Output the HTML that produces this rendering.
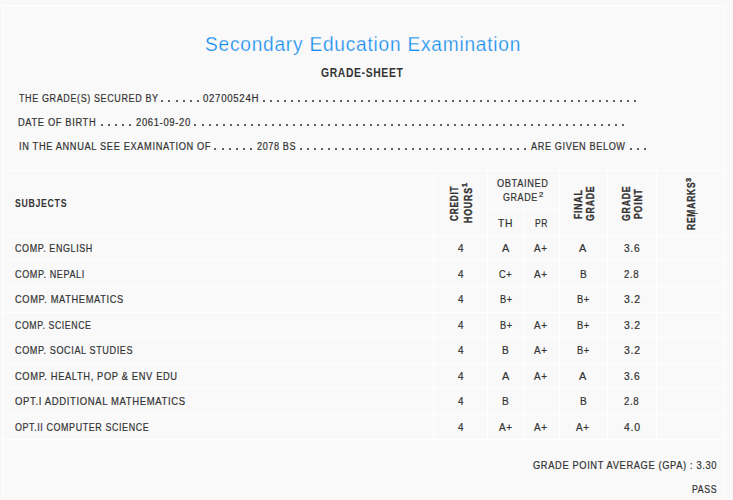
<!DOCTYPE html>
<html><head><meta charset="utf-8"><style>
html,body{margin:0;padding:0;}
body{width:733px;height:500px;overflow:hidden;background:#f8f8f8;position:relative;font-family:"Liberation Sans", sans-serif;}
.panel{position:absolute;left:2px;top:5px;width:722px;height:495px;background:#f9f9f9;}
.rs{position:absolute;left:724px;top:0px;width:7px;height:500px;background:#fafafa;}
.ln{position:absolute;background:#ffffff;}
.t{position:absolute;white-space:pre;transform-origin:0 0;-webkit-text-stroke:0.2px currentColor;}
.dot{position:absolute;width:2px;height:2px;background:#606060;}
#title{-webkit-text-stroke:0.25px #f9f9f9}
.b{-webkit-text-stroke:0px currentColor}

</style></head><body>
<div class="panel"></div>
<div class="rs"></div>
<div class="ln" style="left:2px;top:5px;width:722px;height:1px"></div>
<div class="ln" style="left:2px;top:5px;width:1px;height:495px"></div>
<div class="ln" style="left:723px;top:5px;width:1px;height:495px"></div>
<div class="ln" style="left:2px;top:170px;width:722px;height:1px"></div>
<div class="ln" style="left:2px;top:235px;width:722px;height:1px"></div>
<div class="ln" style="left:2px;top:260px;width:722px;height:1px"></div>
<div class="ln" style="left:2px;top:286px;width:722px;height:1px"></div>
<div class="ln" style="left:2px;top:312px;width:722px;height:1px"></div>
<div class="ln" style="left:2px;top:337px;width:722px;height:1px"></div>
<div class="ln" style="left:2px;top:363px;width:722px;height:1px"></div>
<div class="ln" style="left:2px;top:388px;width:722px;height:1px"></div>
<div class="ln" style="left:2px;top:414px;width:722px;height:1px"></div>
<div class="ln" style="left:2px;top:439px;width:722px;height:1px"></div>
<div class="ln" style="left:433px;top:170px;width:1px;height:269px"></div>
<div class="ln" style="left:487px;top:170px;width:1px;height:269px"></div>
<div class="ln" style="left:559px;top:170px;width:1px;height:269px"></div>
<div class="ln" style="left:607px;top:170px;width:1px;height:269px"></div>
<div class="ln" style="left:656px;top:170px;width:1px;height:269px"></div>
<div class="ln" style="left:523px;top:209px;width:1px;height:230px"></div>
<div class="ln" style="left:487px;top:209px;width:73px;height:1px"></div>
<div style="position:absolute;left:694px;top:213px;width:4px;height:1px;background:#5a5a5a"></div>
<div id="title" class="t" style="left:205.02px;top:34.50px;font-size:19.5px;line-height:19.5px;font-weight:normal;color:#168ef0;letter-spacing:0.8px;transform:scaleX(0.9791)">Secondary Education Examination</div>
<div id="gs" class="t b" style="left:321.00px;top:66.75px;font-size:12.94px;line-height:12.94px;font-weight:bold;color:#333333;letter-spacing:0.8px;transform:scaleX(0.8003)">GRADE-SHEET</div>
<div id="l1a" class="t" style="left:19.02px;top:93.85px;font-size:10.0px;line-height:10.0px;font-weight:normal;color:#333333;letter-spacing:0.7px;transform:scaleX(0.8975)">THE GRADE(S) SECURED BY</div>
<div class="dot" style="left:161px;top:100px"></div>
<div class="dot" style="left:168px;top:100px"></div>
<div class="dot" style="left:176px;top:100px"></div>
<div class="dot" style="left:183px;top:100px"></div>
<div class="dot" style="left:190px;top:100px"></div>
<div class="dot" style="left:197px;top:100px"></div>
<div id="l1b" class="t" style="left:203.00px;top:93.85px;font-size:10.0px;line-height:10.0px;font-weight:normal;color:#333333;letter-spacing:0.7px;transform:scaleX(0.9670)">02700524H</div>
<div class="dot" style="left:263px;top:100px"></div>
<div class="dot" style="left:270px;top:100px"></div>
<div class="dot" style="left:277px;top:100px"></div>
<div class="dot" style="left:284px;top:100px"></div>
<div class="dot" style="left:291px;top:100px"></div>
<div class="dot" style="left:298px;top:100px"></div>
<div class="dot" style="left:305px;top:100px"></div>
<div class="dot" style="left:312px;top:100px"></div>
<div class="dot" style="left:319px;top:100px"></div>
<div class="dot" style="left:326px;top:100px"></div>
<div class="dot" style="left:333px;top:100px"></div>
<div class="dot" style="left:340px;top:100px"></div>
<div class="dot" style="left:347px;top:100px"></div>
<div class="dot" style="left:354px;top:100px"></div>
<div class="dot" style="left:361px;top:100px"></div>
<div class="dot" style="left:368px;top:100px"></div>
<div class="dot" style="left:375px;top:100px"></div>
<div class="dot" style="left:382px;top:100px"></div>
<div class="dot" style="left:389px;top:100px"></div>
<div class="dot" style="left:396px;top:100px"></div>
<div class="dot" style="left:403px;top:100px"></div>
<div class="dot" style="left:410px;top:100px"></div>
<div class="dot" style="left:417px;top:100px"></div>
<div class="dot" style="left:424px;top:100px"></div>
<div class="dot" style="left:431px;top:100px"></div>
<div class="dot" style="left:438px;top:100px"></div>
<div class="dot" style="left:445px;top:100px"></div>
<div class="dot" style="left:452px;top:100px"></div>
<div class="dot" style="left:459px;top:100px"></div>
<div class="dot" style="left:466px;top:100px"></div>
<div class="dot" style="left:473px;top:100px"></div>
<div class="dot" style="left:480px;top:100px"></div>
<div class="dot" style="left:487px;top:100px"></div>
<div class="dot" style="left:494px;top:100px"></div>
<div class="dot" style="left:501px;top:100px"></div>
<div class="dot" style="left:508px;top:100px"></div>
<div class="dot" style="left:515px;top:100px"></div>
<div class="dot" style="left:522px;top:100px"></div>
<div class="dot" style="left:529px;top:100px"></div>
<div class="dot" style="left:536px;top:100px"></div>
<div class="dot" style="left:543px;top:100px"></div>
<div class="dot" style="left:550px;top:100px"></div>
<div class="dot" style="left:557px;top:100px"></div>
<div class="dot" style="left:564px;top:100px"></div>
<div class="dot" style="left:571px;top:100px"></div>
<div class="dot" style="left:578px;top:100px"></div>
<div class="dot" style="left:585px;top:100px"></div>
<div class="dot" style="left:592px;top:100px"></div>
<div class="dot" style="left:599px;top:100px"></div>
<div class="dot" style="left:606px;top:100px"></div>
<div class="dot" style="left:613px;top:100px"></div>
<div class="dot" style="left:620px;top:100px"></div>
<div class="dot" style="left:627px;top:100px"></div>
<div class="dot" style="left:634px;top:100px"></div>
<div id="l2a" class="t" style="left:18.05px;top:117.85px;font-size:10.0px;line-height:10.0px;font-weight:normal;color:#333333;letter-spacing:0.7px;transform:scaleX(0.9290)">DATE OF BIRTH</div>
<div class="dot" style="left:101px;top:124px"></div>
<div class="dot" style="left:108px;top:124px"></div>
<div class="dot" style="left:115px;top:124px"></div>
<div class="dot" style="left:122px;top:124px"></div>
<div class="dot" style="left:129px;top:124px"></div>
<div id="l2b" class="t" style="left:136.01px;top:117.85px;font-size:10.0px;line-height:10.0px;font-weight:normal;color:#333333;letter-spacing:0.7px;transform:scaleX(0.9421)">2061-09-20</div>
<div class="dot" style="left:194px;top:124px"></div>
<div class="dot" style="left:202px;top:124px"></div>
<div class="dot" style="left:209px;top:124px"></div>
<div class="dot" style="left:216px;top:124px"></div>
<div class="dot" style="left:223px;top:124px"></div>
<div class="dot" style="left:230px;top:124px"></div>
<div class="dot" style="left:237px;top:124px"></div>
<div class="dot" style="left:244px;top:124px"></div>
<div class="dot" style="left:251px;top:124px"></div>
<div class="dot" style="left:258px;top:124px"></div>
<div class="dot" style="left:265px;top:124px"></div>
<div class="dot" style="left:272px;top:124px"></div>
<div class="dot" style="left:279px;top:124px"></div>
<div class="dot" style="left:286px;top:124px"></div>
<div class="dot" style="left:293px;top:124px"></div>
<div class="dot" style="left:300px;top:124px"></div>
<div class="dot" style="left:307px;top:124px"></div>
<div class="dot" style="left:314px;top:124px"></div>
<div class="dot" style="left:321px;top:124px"></div>
<div class="dot" style="left:328px;top:124px"></div>
<div class="dot" style="left:335px;top:124px"></div>
<div class="dot" style="left:342px;top:124px"></div>
<div class="dot" style="left:349px;top:124px"></div>
<div class="dot" style="left:356px;top:124px"></div>
<div class="dot" style="left:363px;top:124px"></div>
<div class="dot" style="left:370px;top:124px"></div>
<div class="dot" style="left:377px;top:124px"></div>
<div class="dot" style="left:384px;top:124px"></div>
<div class="dot" style="left:391px;top:124px"></div>
<div class="dot" style="left:398px;top:124px"></div>
<div class="dot" style="left:405px;top:124px"></div>
<div class="dot" style="left:412px;top:124px"></div>
<div class="dot" style="left:419px;top:124px"></div>
<div class="dot" style="left:426px;top:124px"></div>
<div class="dot" style="left:433px;top:124px"></div>
<div class="dot" style="left:440px;top:124px"></div>
<div class="dot" style="left:447px;top:124px"></div>
<div class="dot" style="left:454px;top:124px"></div>
<div class="dot" style="left:461px;top:124px"></div>
<div class="dot" style="left:468px;top:124px"></div>
<div class="dot" style="left:475px;top:124px"></div>
<div class="dot" style="left:482px;top:124px"></div>
<div class="dot" style="left:489px;top:124px"></div>
<div class="dot" style="left:496px;top:124px"></div>
<div class="dot" style="left:503px;top:124px"></div>
<div class="dot" style="left:510px;top:124px"></div>
<div class="dot" style="left:517px;top:124px"></div>
<div class="dot" style="left:524px;top:124px"></div>
<div class="dot" style="left:531px;top:124px"></div>
<div class="dot" style="left:538px;top:124px"></div>
<div class="dot" style="left:545px;top:124px"></div>
<div class="dot" style="left:552px;top:124px"></div>
<div class="dot" style="left:559px;top:124px"></div>
<div class="dot" style="left:566px;top:124px"></div>
<div class="dot" style="left:573px;top:124px"></div>
<div class="dot" style="left:580px;top:124px"></div>
<div class="dot" style="left:587px;top:124px"></div>
<div class="dot" style="left:594px;top:124px"></div>
<div class="dot" style="left:601px;top:124px"></div>
<div class="dot" style="left:608px;top:124px"></div>
<div class="dot" style="left:615px;top:124px"></div>
<div class="dot" style="left:622px;top:124px"></div>
<div id="l3a" class="t" style="left:19.00px;top:141.95px;font-size:10.0px;line-height:10.0px;font-weight:normal;color:#333333;letter-spacing:0.7px;transform:scaleX(0.9247)">IN THE ANNUAL SEE EXAMINATION OF</div>
<div class="dot" style="left:214px;top:148px"></div>
<div class="dot" style="left:222px;top:148px"></div>
<div class="dot" style="left:229px;top:148px"></div>
<div class="dot" style="left:236px;top:148px"></div>
<div class="dot" style="left:243px;top:148px"></div>
<div class="dot" style="left:250px;top:148px"></div>
<div id="l3b" class="t" style="left:256.95px;top:141.95px;font-size:10.0px;line-height:10.0px;font-weight:normal;color:#333333;letter-spacing:0.7px;transform:scaleX(0.9070)">2078 BS</div>
<div class="dot" style="left:300px;top:148px"></div>
<div class="dot" style="left:307px;top:148px"></div>
<div class="dot" style="left:314px;top:148px"></div>
<div class="dot" style="left:321px;top:148px"></div>
<div class="dot" style="left:328px;top:148px"></div>
<div class="dot" style="left:335px;top:148px"></div>
<div class="dot" style="left:342px;top:148px"></div>
<div class="dot" style="left:349px;top:148px"></div>
<div class="dot" style="left:356px;top:148px"></div>
<div class="dot" style="left:363px;top:148px"></div>
<div class="dot" style="left:370px;top:148px"></div>
<div class="dot" style="left:377px;top:148px"></div>
<div class="dot" style="left:384px;top:148px"></div>
<div class="dot" style="left:391px;top:148px"></div>
<div class="dot" style="left:398px;top:148px"></div>
<div class="dot" style="left:405px;top:148px"></div>
<div class="dot" style="left:412px;top:148px"></div>
<div class="dot" style="left:419px;top:148px"></div>
<div class="dot" style="left:426px;top:148px"></div>
<div class="dot" style="left:433px;top:148px"></div>
<div class="dot" style="left:440px;top:148px"></div>
<div class="dot" style="left:447px;top:148px"></div>
<div class="dot" style="left:454px;top:148px"></div>
<div class="dot" style="left:461px;top:148px"></div>
<div class="dot" style="left:468px;top:148px"></div>
<div class="dot" style="left:475px;top:148px"></div>
<div class="dot" style="left:482px;top:148px"></div>
<div class="dot" style="left:489px;top:148px"></div>
<div class="dot" style="left:496px;top:148px"></div>
<div class="dot" style="left:503px;top:148px"></div>
<div class="dot" style="left:510px;top:148px"></div>
<div class="dot" style="left:517px;top:148px"></div>
<div class="dot" style="left:524px;top:148px"></div>
<div id="l3c" class="t" style="left:530.94px;top:141.95px;font-size:10.0px;line-height:10.0px;font-weight:normal;color:#333333;letter-spacing:0.7px;transform:scaleX(0.9108)">ARE GIVEN BELOW</div>
<div class="dot" style="left:630px;top:148px"></div>
<div class="dot" style="left:637px;top:148px"></div>
<div class="dot" style="left:644px;top:148px"></div>
<div id="subj" class="t b" style="left:15.46px;top:198.65px;font-size:10.03px;line-height:10.03px;font-weight:bold;color:#333333;letter-spacing:0.8px;transform:scaleX(0.8716)">SUBJECTS</div>
<div id="obt" class="t" style="left:496.99px;top:179.05px;font-size:10.3px;line-height:10.3px;font-weight:normal;color:#333333;letter-spacing:0.7px;transform:scaleX(0.8968)">OBTAINED</div>
<div id="grd" class="t" style="left:503.05px;top:192.75px;font-size:10.3px;line-height:10.3px;font-weight:normal;color:#333333;letter-spacing:0.7px;transform:scaleX(0.8679)">GRADE</div>
<div id="sup2" class="t" style="left:538.93px;top:190.80px;font-size:7px;line-height:7px;font-weight:normal;color:#333333;letter-spacing:0.7px;transform:scaleX(1.0913)">2</div>
<div id="th" class="t" style="left:498.01px;top:218.80px;font-size:10.3px;line-height:10.3px;font-weight:normal;color:#333333;letter-spacing:0.7px;transform:scaleX(1.0051)">TH</div>
<div id="pr" class="t" style="left:535.00px;top:218.80px;font-size:10.3px;line-height:10.3px;font-weight:normal;color:#333333;letter-spacing:0.7px;transform:scaleX(0.8299)">PR</div>
<div id="credit" class="t b" style="left:449.05px;top:221.07px;font-size:11.4px;line-height:11.4px;font-weight:bold;color:#333333;letter-spacing:1.1px;-webkit-text-stroke:0.35px currentColor;transform:rotate(-90deg) scaleX(0.7214)">CREDIT</div>
<div id="hours" class="t b" style="left:463.35px;top:222.93px;font-size:11.4px;line-height:11.4px;font-weight:bold;color:#333333;letter-spacing:1.1px;-webkit-text-stroke:0.35px currentColor;transform:rotate(-90deg) scaleX(0.7699)">HOURS</div>
<div id="sup1" class="t b" style="left:461.25px;top:187.07px;font-size:7.5px;line-height:7.5px;font-weight:bold;color:#333333;letter-spacing:0.8px;-webkit-text-stroke:0.35px currentColor;transform:rotate(-90deg) scaleX(1.0261)">1</div>
<div id="final" class="t b" style="left:573.40px;top:219.00px;font-size:11.4px;line-height:11.4px;font-weight:bold;color:#333333;letter-spacing:1.1px;-webkit-text-stroke:0.35px currentColor;transform:rotate(-90deg) scaleX(0.7558)">FINAL</div>
<div id="fgrade" class="t b" style="left:585.20px;top:220.97px;font-size:11.4px;line-height:11.4px;font-weight:bold;color:#333333;letter-spacing:1.1px;-webkit-text-stroke:0.35px currentColor;transform:rotate(-90deg) scaleX(0.7609)">GRADE</div>
<div id="pgrade" class="t b" style="left:620.95px;top:220.97px;font-size:11.4px;line-height:11.4px;font-weight:bold;color:#333333;letter-spacing:1.1px;-webkit-text-stroke:0.35px currentColor;transform:rotate(-90deg) scaleX(0.7609)">GRADE</div>
<div id="point" class="t b" style="left:632.90px;top:219.00px;font-size:11.4px;line-height:11.4px;font-weight:bold;color:#333333;letter-spacing:1.1px;-webkit-text-stroke:0.35px currentColor;transform:rotate(-90deg) scaleX(0.7603)">POINT</div>
<div id="remarks" class="t b" style="left:686.15px;top:230.12px;font-size:11.4px;line-height:11.4px;font-weight:bold;color:#333333;letter-spacing:1.1px;-webkit-text-stroke:0.35px currentColor;transform:rotate(-90deg) scaleX(0.7420)">REMARKS</div>
<div id="sup3" class="t b" style="left:684.75px;top:182.11px;font-size:7.5px;line-height:7.5px;font-weight:bold;color:#333333;letter-spacing:0.8px;-webkit-text-stroke:0.35px currentColor;transform:rotate(-90deg) scaleX(1.0065)">3</div>
<div id="s0" class="t" style="left:14.56px;top:244.15px;font-size:10.3px;line-height:10.3px;font-weight:normal;color:#333333;letter-spacing:0.7px;transform:scaleX(0.8695)">COMP. ENGLISH</div>
<div id="c0_0" class="t" style="left:457.76px;top:244.15px;font-size:10.3px;line-height:10.3px;font-weight:normal;color:#333333;letter-spacing:0.7px;transform:scaleX(0.9658)">4</div>
<div id="c0_1" class="t" style="left:502.03px;top:244.15px;font-size:10.3px;line-height:10.3px;font-weight:normal;color:#333333;letter-spacing:0.7px;transform:scaleX(1.0545)">A</div>
<div id="c0_2" class="t" style="left:533.92px;top:244.15px;font-size:10.3px;line-height:10.3px;font-weight:normal;color:#333333;letter-spacing:0.7px;transform:scaleX(0.9598)">A+</div>
<div id="c0_3" class="t" style="left:578.95px;top:244.15px;font-size:10.3px;line-height:10.3px;font-weight:normal;color:#333333;letter-spacing:0.7px;transform:scaleX(1.0545)">A</div>
<div id="c0_4" class="t" style="left:623.93px;top:244.15px;font-size:10.3px;line-height:10.3px;font-weight:normal;color:#333333;letter-spacing:0.7px;transform:scaleX(0.9891)">3.6</div>
<div id="s1" class="t" style="left:14.55px;top:269.65px;font-size:10.3px;line-height:10.3px;font-weight:normal;color:#333333;letter-spacing:0.7px;transform:scaleX(0.8784)">COMP. NEPALI</div>
<div id="c1_0" class="t" style="left:457.76px;top:269.65px;font-size:10.3px;line-height:10.3px;font-weight:normal;color:#333333;letter-spacing:0.7px;transform:scaleX(0.9658)">4</div>
<div id="c1_1" class="t" style="left:498.98px;top:269.65px;font-size:10.3px;line-height:10.3px;font-weight:normal;color:#333333;letter-spacing:0.7px;transform:scaleX(0.8990)">C+</div>
<div id="c1_2" class="t" style="left:533.92px;top:269.65px;font-size:10.3px;line-height:10.3px;font-weight:normal;color:#333333;letter-spacing:0.7px;transform:scaleX(0.9598)">A+</div>
<div id="c1_3" class="t" style="left:579.98px;top:269.65px;font-size:10.3px;line-height:10.3px;font-weight:normal;color:#333333;letter-spacing:0.7px;transform:scaleX(0.9795)">B</div>
<div id="c1_4" class="t" style="left:623.98px;top:269.65px;font-size:10.3px;line-height:10.3px;font-weight:normal;color:#333333;letter-spacing:0.7px;transform:scaleX(0.9375)">2.8</div>
<div id="s2" class="t" style="left:14.55px;top:295.15px;font-size:10.3px;line-height:10.3px;font-weight:normal;color:#333333;letter-spacing:0.7px;transform:scaleX(0.9026)">COMP. MATHEMATICS</div>
<div id="c2_0" class="t" style="left:457.76px;top:295.15px;font-size:10.3px;line-height:10.3px;font-weight:normal;color:#333333;letter-spacing:0.7px;transform:scaleX(0.9658)">4</div>
<div id="c2_1" class="t" style="left:499.58px;top:295.15px;font-size:10.3px;line-height:10.3px;font-weight:normal;color:#333333;letter-spacing:0.7px;transform:scaleX(0.8967)">B+</div>
<div id="c2_3" class="t" style="left:576.50px;top:295.15px;font-size:10.3px;line-height:10.3px;font-weight:normal;color:#333333;letter-spacing:0.7px;transform:scaleX(0.9020)">B+</div>
<div id="c2_4" class="t" style="left:624.06px;top:295.15px;font-size:10.3px;line-height:10.3px;font-weight:normal;color:#333333;letter-spacing:0.7px;transform:scaleX(1.0179)">3.2</div>
<div id="s3" class="t" style="left:14.57px;top:320.65px;font-size:10.3px;line-height:10.3px;font-weight:normal;color:#333333;letter-spacing:0.7px;transform:scaleX(0.8485)">COMP. SCIENCE</div>
<div id="c3_0" class="t" style="left:457.76px;top:320.65px;font-size:10.3px;line-height:10.3px;font-weight:normal;color:#333333;letter-spacing:0.7px;transform:scaleX(0.9658)">4</div>
<div id="c3_1" class="t" style="left:499.58px;top:320.65px;font-size:10.3px;line-height:10.3px;font-weight:normal;color:#333333;letter-spacing:0.7px;transform:scaleX(0.8967)">B+</div>
<div id="c3_2" class="t" style="left:533.92px;top:320.65px;font-size:10.3px;line-height:10.3px;font-weight:normal;color:#333333;letter-spacing:0.7px;transform:scaleX(0.9598)">A+</div>
<div id="c3_3" class="t" style="left:576.50px;top:320.65px;font-size:10.3px;line-height:10.3px;font-weight:normal;color:#333333;letter-spacing:0.7px;transform:scaleX(0.9020)">B+</div>
<div id="c3_4" class="t" style="left:624.06px;top:320.65px;font-size:10.3px;line-height:10.3px;font-weight:normal;color:#333333;letter-spacing:0.7px;transform:scaleX(1.0179)">3.2</div>
<div id="s4" class="t" style="left:14.55px;top:346.15px;font-size:10.3px;line-height:10.3px;font-weight:normal;color:#333333;letter-spacing:0.7px;transform:scaleX(0.8806)">COMP. SOCIAL STUDIES</div>
<div id="c4_0" class="t" style="left:457.76px;top:346.15px;font-size:10.3px;line-height:10.3px;font-weight:normal;color:#333333;letter-spacing:0.7px;transform:scaleX(0.9658)">4</div>
<div id="c4_1" class="t" style="left:501.96px;top:346.15px;font-size:10.3px;line-height:10.3px;font-weight:normal;color:#333333;letter-spacing:0.7px;transform:scaleX(0.9795)">B</div>
<div id="c4_2" class="t" style="left:533.92px;top:346.15px;font-size:10.3px;line-height:10.3px;font-weight:normal;color:#333333;letter-spacing:0.7px;transform:scaleX(0.9598)">A+</div>
<div id="c4_3" class="t" style="left:576.50px;top:346.15px;font-size:10.3px;line-height:10.3px;font-weight:normal;color:#333333;letter-spacing:0.7px;transform:scaleX(0.9020)">B+</div>
<div id="c4_4" class="t" style="left:624.06px;top:346.15px;font-size:10.3px;line-height:10.3px;font-weight:normal;color:#333333;letter-spacing:0.7px;transform:scaleX(1.0179)">3.2</div>
<div id="s5" class="t" style="left:14.54px;top:371.65px;font-size:10.3px;line-height:10.3px;font-weight:normal;color:#333333;letter-spacing:0.7px;transform:scaleX(0.9057)">COMP. HEALTH, POP &amp; ENV EDU</div>
<div id="c5_0" class="t" style="left:457.76px;top:371.65px;font-size:10.3px;line-height:10.3px;font-weight:normal;color:#333333;letter-spacing:0.7px;transform:scaleX(0.9658)">4</div>
<div id="c5_1" class="t" style="left:502.03px;top:371.65px;font-size:10.3px;line-height:10.3px;font-weight:normal;color:#333333;letter-spacing:0.7px;transform:scaleX(1.0545)">A</div>
<div id="c5_2" class="t" style="left:533.92px;top:371.65px;font-size:10.3px;line-height:10.3px;font-weight:normal;color:#333333;letter-spacing:0.7px;transform:scaleX(0.9598)">A+</div>
<div id="c5_3" class="t" style="left:578.95px;top:371.65px;font-size:10.3px;line-height:10.3px;font-weight:normal;color:#333333;letter-spacing:0.7px;transform:scaleX(1.0545)">A</div>
<div id="c5_4" class="t" style="left:623.93px;top:371.65px;font-size:10.3px;line-height:10.3px;font-weight:normal;color:#333333;letter-spacing:0.7px;transform:scaleX(0.9891)">3.6</div>
<div id="s6" class="t" style="left:15.46px;top:397.15px;font-size:10.3px;line-height:10.3px;font-weight:normal;color:#333333;letter-spacing:0.7px;transform:scaleX(0.9216)">OPT.I ADDITIONAL MATHEMATICS</div>
<div id="c6_0" class="t" style="left:457.76px;top:397.15px;font-size:10.3px;line-height:10.3px;font-weight:normal;color:#333333;letter-spacing:0.7px;transform:scaleX(0.9658)">4</div>
<div id="c6_1" class="t" style="left:501.96px;top:397.15px;font-size:10.3px;line-height:10.3px;font-weight:normal;color:#333333;letter-spacing:0.7px;transform:scaleX(0.9795)">B</div>
<div id="c6_3" class="t" style="left:579.98px;top:397.15px;font-size:10.3px;line-height:10.3px;font-weight:normal;color:#333333;letter-spacing:0.7px;transform:scaleX(0.9795)">B</div>
<div id="c6_4" class="t" style="left:623.98px;top:397.15px;font-size:10.3px;line-height:10.3px;font-weight:normal;color:#333333;letter-spacing:0.7px;transform:scaleX(0.9375)">2.8</div>
<div id="s7" class="t" style="left:15.43px;top:422.65px;font-size:10.3px;line-height:10.3px;font-weight:normal;color:#333333;letter-spacing:0.7px;transform:scaleX(0.8659)">OPT.II COMPUTER SCIENCE</div>
<div id="c7_0" class="t" style="left:457.76px;top:422.65px;font-size:10.3px;line-height:10.3px;font-weight:normal;color:#333333;letter-spacing:0.7px;transform:scaleX(0.9658)">4</div>
<div id="c7_1" class="t" style="left:498.95px;top:422.65px;font-size:10.3px;line-height:10.3px;font-weight:normal;color:#333333;letter-spacing:0.7px;transform:scaleX(0.9598)">A+</div>
<div id="c7_2" class="t" style="left:533.92px;top:422.65px;font-size:10.3px;line-height:10.3px;font-weight:normal;color:#333333;letter-spacing:0.7px;transform:scaleX(0.9598)">A+</div>
<div id="c7_3" class="t" style="left:575.92px;top:422.65px;font-size:10.3px;line-height:10.3px;font-weight:normal;color:#333333;letter-spacing:0.7px;transform:scaleX(0.9598)">A+</div>
<div id="c7_4" class="t" style="left:623.92px;top:422.65px;font-size:10.3px;line-height:10.3px;font-weight:normal;color:#333333;letter-spacing:0.7px;transform:scaleX(1.0140)">4.0</div>
<div id="gpa" class="t" style="left:532.99px;top:460.95px;font-size:10.3px;line-height:10.3px;font-weight:normal;color:#333333;letter-spacing:0.7px;transform:scaleX(0.9033)">GRADE POINT AVERAGE (GPA) : 3.30</div>
<div id="pass" class="t" style="left:692.12px;top:484.90px;font-size:10.3px;line-height:10.3px;font-weight:normal;color:#333333;letter-spacing:0.7px;transform:scaleX(0.8523)">PASS</div>
</body></html>
